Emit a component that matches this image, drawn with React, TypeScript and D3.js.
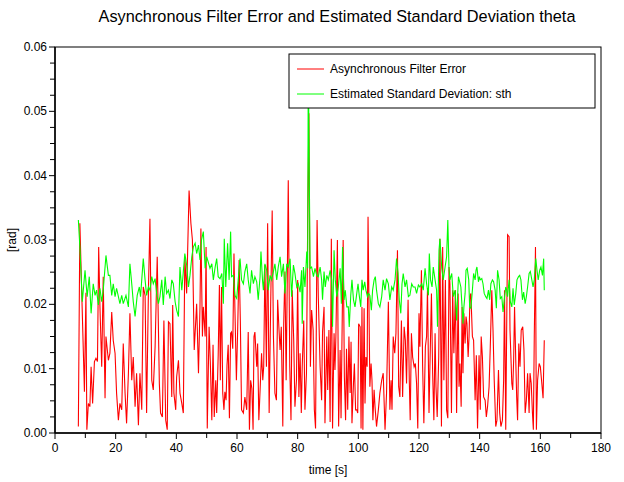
import React from "react";
import * as d3 from "d3";

const chartTitle = "Asynchronous Filter Error and Estimated Standard Deviation theta";
const xLabel = "time [s]";
const yLabel = "[rad]";
const seriesNames = ["Asynchronous Filter Error", "Estimated Standard Deviation: sth"];
const seriesColors = ["#ff0000", "#00ff00"];
const xTickValues = [0, 20, 40, 60, 80, 100, 120, 140, 160, 180];
const yTickValues = [0, 0.01, 0.02, 0.03, 0.04, 0.05, 0.06];

// [time s, error rad]
const filterError: [number, number][] = [
  [7.7, 0.0010], [8.2, 0.0326], [9.7, 0.0064], [10.2, 0.0218], [10.5, 0.0005], [11.0, 0.0046], [11.5, 0.0041], [11.9, 0.0103],
  [12.4, 0.0046], [13.0, 0.0111], [13.5, 0.0116], [14.0, 0.0111], [14.4, 0.0289], [14.8, 0.0199], [15.4, 0.0103], [15.9, 0.0243],
  [16.5, 0.0054], [16.8, 0.0150], [17.6, 0.0113], [18.1, 0.0124], [18.7, 0.0188], [19.2, 0.0144], [19.8, 0.0124], [20.3, 0.0062],
  [20.9, 0.0020], [21.4, 0.0046], [22.0, 0.0036], [22.5, 0.0139], [23.1, 0.0062], [23.6, 0.0015], [24.2, 0.0093], [24.7, 0.0186],
  [25.3, 0.0082], [25.8, 0.0118], [26.4, 0.0041], [26.9, 0.0093], [27.5, 0.0012], [28.0, 0.0093], [28.6, 0.0036], [29.1, 0.0227],
  [29.7, 0.0214], [30.2, 0.0031], [30.8, 0.0222], [31.3, 0.0333], [31.9, 0.0082], [32.4, 0.0067], [33.0, 0.0134], [33.7, 0.0274],
  [34.4, 0.0077], [34.8, 0.0031], [35.4, 0.0025], [35.9, 0.0175], [36.5, 0.0020], [37.0, 0.0005], [37.4, 0.0173], [37.9, 0.0170],
  [38.5, 0.0056], [38.8, 0.0199], [39.2, 0.0062], [39.8, 0.0036], [40.1, 0.0087], [40.7, 0.0113], [41.2, 0.0062], [41.8, 0.0046],
  [42.3, 0.0031], [42.8, 0.0274], [43.4, 0.0217], [44.2, 0.0377], [44.8, 0.0326], [45.3, 0.0300], [45.9, 0.0129], [46.7, 0.0201],
  [47.3, 0.0093], [47.8, 0.0196], [48.1, 0.0318], [48.6, 0.0150], [48.9, 0.0196], [49.5, 0.0150], [49.8, 0.0289], [50.2, 0.0007],
  [50.8, 0.0165], [51.2, 0.0111], [51.7, 0.0020], [52.1, 0.0137], [52.5, 0.0025], [53.0, 0.0082], [53.3, 0.0031], [53.8, 0.0121],
  [54.2, 0.0230], [54.5, 0.0082], [54.9, 0.0227], [55.3, 0.0062], [55.7, 0.0036], [56.0, 0.0064], [56.4, 0.0051], [56.7, 0.0105],
  [57.1, 0.0137], [57.5, 0.0023], [57.9, 0.0155], [58.2, 0.0157], [58.6, 0.0131], [59.0, 0.0279], [59.3, 0.0196], [59.8, 0.0082],
  [60.2, 0.0157], [60.7, 0.0269], [61.1, 0.0175], [61.5, 0.0036], [62.1, 0.0031], [62.6, 0.0056], [63.2, 0.0036], [63.7, 0.0157],
  [64.1, 0.0005], [64.5, 0.0082], [64.9, 0.0069], [65.3, 0.0005], [65.6, 0.0150], [65.9, 0.0157], [66.5, 0.0103], [66.8, 0.0139],
  [67.2, 0.0020], [67.7, 0.0077], [68.1, 0.0124], [68.5, 0.0082], [68.8, 0.0103], [69.2, 0.0261], [69.7, 0.0103], [70.1, 0.0326],
  [70.6, 0.0031], [71.1, 0.0199], [71.6, 0.0346], [72.0, 0.0152], [72.5, 0.0062], [73.0, 0.0051], [73.4, 0.0207], [73.8, 0.0165],
  [74.2, 0.0129], [74.6, 0.0165], [75.1, 0.0010], [75.4, 0.0170], [75.8, 0.0251], [76.2, 0.0082], [76.6, 0.0251], [76.9, 0.0393],
  [77.4, 0.0103], [77.8, 0.0020], [78.2, 0.0222], [78.7, 0.0144], [79.1, 0.0041], [79.6, 0.0082], [80.0, 0.0238], [80.4, 0.0056],
  [80.8, 0.0124], [81.2, 0.0031], [81.5, 0.0103], [82.0, 0.0175], [82.4, 0.0036], [82.9, 0.0093], [83.3, 0.0326], [83.7, 0.0497],
  [84.2, 0.0103], [84.6, 0.0191], [85.1, 0.0160], [85.5, 0.0036], [85.9, 0.0007], [86.4, 0.0331], [86.8, 0.0212], [87.4, 0.0103],
  [87.9, 0.0051], [88.2, 0.0157], [88.7, 0.0196], [89.0, 0.0015], [89.6, 0.0150], [89.9, 0.0067], [90.3, 0.0160], [90.7, 0.0017],
  [91.1, 0.0302], [91.5, 0.0007], [92.0, 0.0155], [92.3, 0.0098], [92.6, 0.0150], [93.1, 0.0300], [93.5, 0.0010], [94.0, 0.0129],
  [94.3, 0.0023], [94.7, 0.0181], [95.0, 0.0300], [95.4, 0.0087], [95.8, 0.0020], [96.1, 0.0131], [96.5, 0.0036], [96.9, 0.0150],
  [97.3, 0.0062], [97.6, 0.0142], [97.9, 0.0015], [98.4, 0.0077], [98.7, 0.0108], [99.1, 0.0036], [99.5, 0.0036], [99.8, 0.0031],
  [100.1, 0.0170], [100.6, 0.0165], [100.9, 0.0007], [101.2, 0.0196], [101.5, 0.0005], [101.9, 0.0194], [102.2, 0.0046], [102.5, 0.0118],
  [102.9, 0.0103], [103.2, 0.0336], [103.5, 0.0201], [103.8, 0.0072], [104.2, 0.0108], [104.5, 0.0082], [104.8, 0.0020], [105.2, 0.0067],
  [105.5, 0.0041], [106.0, 0.0010], [106.6, 0.0036], [107.1, 0.0062], [107.7, 0.0082], [108.2, 0.0093], [108.8, 0.0005], [109.3, 0.0062],
  [109.9, 0.0204], [110.4, 0.0036], [110.8, 0.0082], [111.1, 0.0036], [111.5, 0.0150], [112.0, 0.0124], [112.4, 0.0155], [112.9, 0.0284],
  [113.3, 0.0072], [113.7, 0.0056], [114.2, 0.0175], [114.6, 0.0056], [115.1, 0.0165], [115.5, 0.0144], [115.9, 0.0077], [116.4, 0.0207],
  [116.8, 0.0082], [117.1, 0.0020], [117.5, 0.0155], [117.9, 0.0118], [118.4, 0.0103], [118.8, 0.0108], [119.2, 0.0077], [119.6, 0.0007],
  [120.0, 0.0186], [120.3, 0.0134], [120.8, 0.0253], [121.2, 0.0103], [121.6, 0.0015], [122.1, 0.0134], [122.5, 0.0150], [122.8, 0.0225],
  [123.3, 0.0031], [123.6, 0.0103], [124.1, 0.0217], [124.5, 0.0093], [124.9, 0.0020], [125.3, 0.0155], [125.6, 0.0072], [126.0, 0.0025],
  [126.5, 0.0118], [126.9, 0.0302], [127.4, 0.0010], [127.8, 0.0289], [128.2, 0.0082], [128.7, 0.0238], [129.1, 0.0036], [129.5, 0.0023],
  [129.9, 0.0258], [130.2, 0.0232], [130.7, 0.0031], [131.1, 0.0222], [131.5, 0.0124], [132.0, 0.0222], [132.4, 0.0031], [132.9, 0.0217],
  [133.2, 0.0072], [133.5, 0.0108], [133.9, 0.0041], [134.2, 0.0196], [134.5, 0.0093], [134.8, 0.0186], [135.2, 0.0139], [135.5, 0.0181],
  [135.8, 0.0170], [136.2, 0.0118], [136.5, 0.0150], [136.8, 0.0212], [137.1, 0.0217], [137.6, 0.0150], [138.0, 0.0144], [138.5, 0.0051],
  [138.9, 0.0121], [139.3, 0.0007], [139.8, 0.0121], [140.2, 0.0036], [140.5, 0.0150], [140.9, 0.0118], [141.3, 0.0056], [141.8, 0.0051],
  [142.2, 0.0025], [142.6, 0.0041], [143.1, 0.0072], [143.5, 0.0134], [144.0, 0.0222], [144.4, 0.0160], [144.8, 0.0082], [145.3, 0.0010],
  [145.7, 0.0020], [146.2, 0.0098], [146.6, 0.0031], [147.0, 0.0010], [147.5, 0.0020], [147.9, 0.0082], [148.2, 0.0222], [148.6, 0.0005],
  [148.9, 0.0160], [149.2, 0.0308], [149.7, 0.0305], [150.0, 0.0160], [150.6, 0.0077], [150.9, 0.0067], [151.2, 0.0113], [151.5, 0.0196],
  [151.9, 0.0113], [152.2, 0.0056], [152.5, 0.0020], [152.9, 0.0139], [153.3, 0.0103], [153.7, 0.0160], [154.2, 0.0165], [154.6, 0.0129],
  [155.0, 0.0031], [155.4, 0.0051], [155.8, 0.0093], [156.3, 0.0031], [156.6, 0.0093], [157.0, 0.0077], [157.4, 0.0031], [157.7, 0.0005],
  [158.0, 0.0150], [158.4, 0.0289], [158.7, 0.0005], [159.1, 0.0082], [159.6, 0.0108], [160.0, 0.0103], [160.4, 0.0082], [160.9, 0.0054],
  [161.3, 0.0144],
];

// [time s, estimated std rad]
const estimatedStd: [number, number][] = [
  [7.7, 0.0331], [8.2, 0.0289], [9.0, 0.0204], [9.9, 0.0253], [10.6, 0.0212], [11.3, 0.0243], [11.9, 0.0186], [12.6, 0.0232],
  [13.2, 0.0214], [13.7, 0.0222], [14.3, 0.0199], [14.8, 0.0225], [15.4, 0.0204], [15.9, 0.0222], [16.8, 0.0276], [17.6, 0.0245],
  [18.1, 0.0245], [18.7, 0.0214], [19.2, 0.0232], [19.8, 0.0212], [20.3, 0.0225], [21.4, 0.0201], [22.0, 0.0214], [22.5, 0.0201],
  [23.4, 0.0214], [24.2, 0.0196], [24.7, 0.0263], [25.3, 0.0232], [25.8, 0.0204], [26.4, 0.0181], [27.1, 0.0214], [27.8, 0.0227],
  [28.2, 0.0212], [29.1, 0.0271], [29.7, 0.0238], [30.2, 0.0214], [30.8, 0.0227], [31.3, 0.0222], [31.9, 0.0243], [32.4, 0.0232],
  [33.0, 0.0240], [33.5, 0.0217], [34.1, 0.0201], [34.6, 0.0212], [35.2, 0.0238], [35.7, 0.0199], [36.3, 0.0243], [36.8, 0.0217],
  [37.4, 0.0222], [37.9, 0.0209], [38.5, 0.0238], [39.0, 0.0232], [39.6, 0.0204], [40.1, 0.0191], [40.7, 0.0181], [41.2, 0.0258],
  [41.8, 0.0222], [42.8, 0.0279], [43.4, 0.0261], [44.0, 0.0227], [44.5, 0.0245], [45.1, 0.0274], [45.6, 0.0289], [46.2, 0.0295],
  [46.7, 0.0279], [47.3, 0.0292], [47.8, 0.0269], [48.3, 0.0300], [48.9, 0.0313], [49.5, 0.0256], [50.0, 0.0274], [50.5, 0.0266],
  [51.1, 0.0256], [51.7, 0.0263], [52.2, 0.0238], [52.8, 0.0258], [53.3, 0.0271], [53.8, 0.0243], [54.4, 0.0240], [55.0, 0.0248],
  [55.5, 0.0201], [55.8, 0.0302], [56.3, 0.0227], [56.9, 0.0295], [57.4, 0.0238], [57.9, 0.0313], [58.2, 0.0243], [58.8, 0.0245],
  [59.3, 0.0214], [59.9, 0.0209], [60.4, 0.0238], [61.0, 0.0271], [61.5, 0.0238], [62.1, 0.0232], [62.6, 0.0251], [63.2, 0.0263],
  [63.7, 0.0238], [64.3, 0.0217], [64.8, 0.0253], [65.4, 0.0232], [65.9, 0.0243], [66.5, 0.0235], [67.0, 0.0207], [67.6, 0.0243],
  [67.9, 0.0282], [68.4, 0.0238], [68.7, 0.0222], [69.2, 0.0263], [69.8, 0.0253], [70.3, 0.0222], [70.9, 0.0245], [71.4, 0.0238],
  [72.0, 0.0251], [72.5, 0.0263], [73.1, 0.0238], [73.6, 0.0258], [74.2, 0.0274], [74.7, 0.0243], [75.3, 0.0263], [75.8, 0.0217],
  [76.4, 0.0263], [76.9, 0.0258], [77.5, 0.0271], [78.0, 0.0212], [78.6, 0.0261], [79.1, 0.0248], [79.7, 0.0227], [80.2, 0.0232],
  [80.8, 0.0219], [81.3, 0.0253], [81.5, 0.0170], [81.9, 0.0258], [82.4, 0.0227], [83.0, 0.0282], [83.3, 0.0256], [83.5, 0.0580],
  [84.1, 0.0256], [84.6, 0.0258], [85.2, 0.0243], [85.7, 0.0256], [86.3, 0.0245], [86.8, 0.0243], [87.4, 0.0258], [87.9, 0.0238],
  [88.2, 0.0207], [88.7, 0.0251], [89.1, 0.0227], [89.6, 0.0245], [90.1, 0.0238], [90.7, 0.0253], [91.2, 0.0238], [91.5, 0.0165],
  [92.0, 0.0284], [92.4, 0.0238], [92.9, 0.0212], [93.4, 0.0227], [94.0, 0.0256], [94.4, 0.0201], [94.8, 0.0289], [95.3, 0.0207],
  [95.7, 0.0222], [96.2, 0.0196], [96.7, 0.0196], [97.0, 0.0165], [97.5, 0.0214], [97.9, 0.0238], [98.4, 0.0207], [98.9, 0.0196],
  [99.4, 0.0214], [99.9, 0.0232], [100.3, 0.0214], [100.8, 0.0196], [101.2, 0.0238], [101.6, 0.0222], [102.1, 0.0235], [102.5, 0.0222],
  [103.0, 0.0212], [103.4, 0.0217], [103.8, 0.0214], [104.3, 0.0191], [104.7, 0.0222], [105.2, 0.0238], [105.6, 0.0243], [106.0, 0.0222],
  [106.6, 0.0201], [107.1, 0.0196], [107.7, 0.0212], [108.2, 0.0238], [108.8, 0.0222], [109.3, 0.0240], [109.9, 0.0232], [110.4, 0.0207],
  [111.0, 0.0227], [111.5, 0.0222], [112.1, 0.0238], [112.6, 0.0271], [113.1, 0.0248], [113.5, 0.0207], [114.0, 0.0186], [114.4, 0.0232],
  [114.8, 0.0248], [115.4, 0.0227], [115.9, 0.0238], [116.5, 0.0212], [117.0, 0.0214], [117.6, 0.0232], [118.1, 0.0227], [118.7, 0.0227],
  [119.2, 0.0217], [119.8, 0.0230], [120.3, 0.0227], [120.9, 0.0232], [121.4, 0.0222], [122.0, 0.0256], [122.5, 0.0232], [123.1, 0.0214],
  [123.4, 0.0279], [123.8, 0.0238], [124.3, 0.0227], [124.7, 0.0258], [125.3, 0.0238], [125.8, 0.0222], [126.1, 0.0165], [126.6, 0.0284],
  [126.9, 0.0302], [127.5, 0.0256], [128.0, 0.0238], [128.6, 0.0258], [129.1, 0.0274], [129.5, 0.0331], [129.9, 0.0253], [130.2, 0.0238],
  [130.8, 0.0248], [131.3, 0.0212], [131.9, 0.0222], [132.4, 0.0175], [133.0, 0.0243], [133.8, 0.0227], [134.2, 0.0196], [134.5, 0.0170],
  [134.8, 0.0196], [135.2, 0.0217], [135.5, 0.0253], [135.9, 0.0256], [136.4, 0.0238], [136.7, 0.0196], [137.1, 0.0194], [137.6, 0.0222],
  [138.0, 0.0248], [138.5, 0.0238], [138.8, 0.0253], [139.1, 0.0258], [139.6, 0.0235], [139.9, 0.0243], [140.2, 0.0238], [140.7, 0.0240],
  [141.1, 0.0232], [141.5, 0.0217], [142.0, 0.0212], [142.4, 0.0209], [142.9, 0.0222], [143.3, 0.0207], [143.7, 0.0232], [144.2, 0.0238],
  [144.6, 0.0235], [145.1, 0.0222], [145.5, 0.0194], [145.9, 0.0253], [146.4, 0.0238], [146.8, 0.0209], [147.3, 0.0212], [147.7, 0.0188],
  [148.1, 0.0207], [148.6, 0.0227], [148.9, 0.0222], [149.2, 0.0212], [149.7, 0.0238], [150.1, 0.0204], [150.6, 0.0196], [151.0, 0.0225],
  [151.4, 0.0199], [151.9, 0.0217], [152.3, 0.0238], [152.8, 0.0243], [153.2, 0.0245], [153.6, 0.0238], [154.1, 0.0207], [154.5, 0.0219],
  [155.0, 0.0201], [155.4, 0.0212], [155.8, 0.0227], [156.3, 0.0248], [156.7, 0.0251], [157.2, 0.0238], [157.6, 0.0227], [158.0, 0.0238],
  [158.5, 0.0271], [158.9, 0.0253], [159.3, 0.0238], [159.8, 0.0253], [160.2, 0.0258], [160.7, 0.0245], [161.1, 0.0271], [161.3, 0.0222],
];

const W = 624;
const H = 482;
const M = { left: 55, right: 23, top: 47, bottom: 49 };
const FONT = "'Liberation Sans', Arial, Helvetica, sans-serif";

export default function App() {
  const x = d3.scaleLinear().domain([0, 180]).range([M.left, W - M.right]);
  const y = d3.scaleLinear().domain([0, 0.06]).range([H - M.bottom, M.top]);
  const line = d3
    .line<[number, number]>()
    .x((d) => x(d[0]))
    .y((d) => y(d[1]));

  const xMinor = d3.range(0, 181, 10);
  const yMinor = d3.range(0, 25).map((i) => i * 0.0025);
  const x0 = M.left;
  const x1 = W - M.right;
  const y0 = H - M.bottom;
  const y1 = M.top;

  const legX = 289;
  const legY = 54;
  const legW = 306;
  const legH = 54;

  return (
    <svg
      width={W}
      height={H}
      style={{ position: "absolute", left: 0, top: 0, background: "#fff" }}
      fontFamily={FONT}
    >
      <rect x={0} y={0} width={W} height={H} fill="#fff" />
      <defs>
        <clipPath id="plotClip">
          <rect x={x0} y={y1} width={x1 - x0} height={y0 - y1} />
        </clipPath>
      </defs>
      <text x={337} y={22} textAnchor="middle" fontSize={16.3} fill="#000">
        {chartTitle}
      </text>

      <g clipPath="url(#plotClip)" fill="none" strokeWidth={1.1}>
        <path d={line(filterError) ?? ""} stroke={seriesColors[0]} />
        <path d={line(estimatedStd) ?? ""} stroke={seriesColors[1]} />
      </g>

      {/* frame */}
      <rect x={x0} y={y1} width={x1 - x0} height={y0 - y1} fill="none" stroke="#000" strokeWidth={1} />
      <line x1={x0} x2={x1} y1={y0} y2={y0} stroke="#000" strokeWidth={1.5} />
      <line x1={x0} x2={x0} y1={y1} y2={y0} stroke="#000" strokeWidth={1.5} />

      {/* x ticks */}
      {xMinor.map((v) => (
        <line key={"xm" + v} x1={x(v)} x2={x(v)} y1={y0} y2={y0 + (v % 20 === 0 ? 6 : 5)} stroke="#000" />
      ))}
      {xTickValues.map((v) => (
        <text key={"xt" + v} x={x(v)} y={y0 + 19} textAnchor="middle" fontSize={12} fill="#000">
          {v}
        </text>
      ))}
      {/* y ticks */}
      {yMinor.map((v, i) => (
        <line key={"ym" + i} x1={x0 - (i % 4 === 0 ? 6 : 5)} x2={x0} y1={y(v)} y2={y(v)} stroke="#000" />
      ))}
      {yTickValues.map((v) => (
        <text key={"yt" + v} x={x0 - 8} y={y(v) + 4} textAnchor="end" fontSize={12} fill="#000">
          {d3.format(".2f")(v)}
        </text>
      ))}

      <text x={(x0 + x1) / 2} y={474} textAnchor="middle" fontSize={12} fill="#000">
        {xLabel}
      </text>
      <text
        transform={`translate(16, ${(y0 + y1) / 2}) rotate(-90)`}
        textAnchor="middle"
        fontSize={12}
        fill="#000"
      >
        {yLabel}
      </text>

      {/* legend */}
      <rect x={legX} y={legY} width={legW} height={legH} fill="#fff" stroke="#000" strokeWidth={1} />
      {seriesNames.map((name, i) => (
        <g key={name}>
          <line
            x1={legX + 8}
            x2={legX + 35}
            y1={legY + 15 + i * 25}
            y2={legY + 15 + i * 25}
            stroke={seriesColors[i]}
            strokeWidth={1}
          />
          <text x={legX + 41} y={legY + 19 + i * 25} fontSize={12} fill="#000">
            {name}
          </text>
        </g>
      ))}
    </svg>
  );
}
